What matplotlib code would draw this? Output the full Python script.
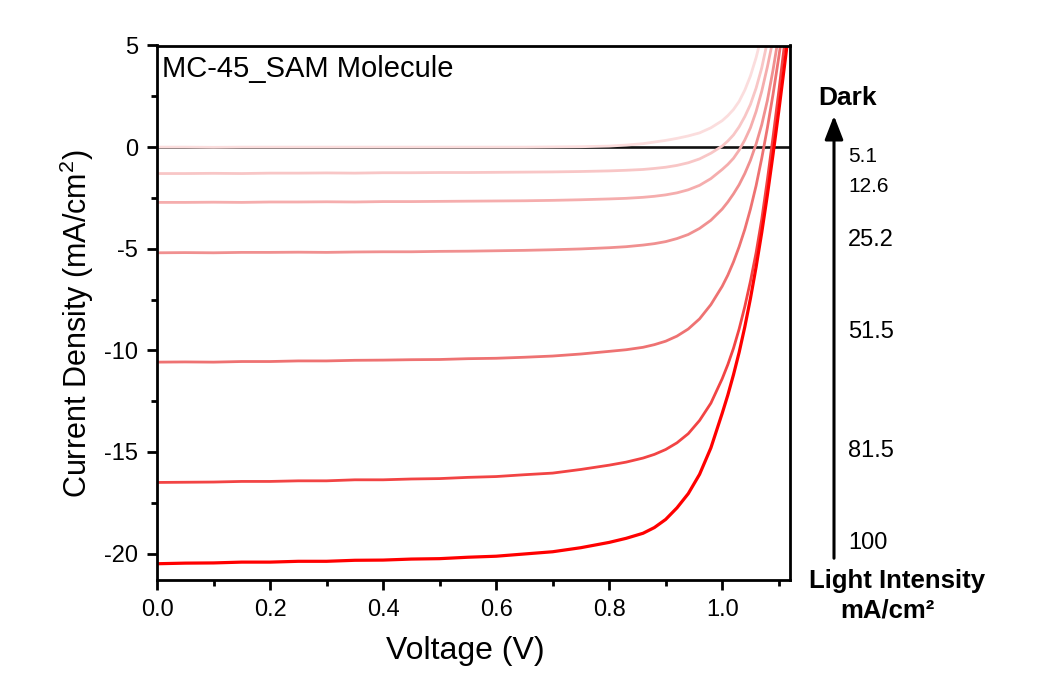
import matplotlib
matplotlib.use("Agg")
import matplotlib.pyplot as plt
from matplotlib.ticker import MultipleLocator, FixedLocator
from matplotlib.patches import FancyArrowPatch

plt.rcParams['font.family'] = ['Liberation Sans', 'DejaVu Sans']
plt.rcParams['mathtext.fontset'] = 'custom'
plt.rcParams['mathtext.rm'] = 'Liberation Sans'
plt.rcParams['mathtext.it'] = 'Liberation Sans:italic'

# ---- data ----
voltage = [0.00, 0.05, 0.10, 0.15, 0.20, 0.25, 0.30, 0.35, 0.40, 0.45, 0.50, 0.55,
           0.60, 0.65, 0.70, 0.75,
           0.80, 0.83, 0.86, 0.88, 0.90, 0.92, 0.94, 0.96, 0.98,
           1.00, 1.01, 1.02, 1.03, 1.04, 1.05, 1.06, 1.07, 1.08, 1.09, 1.10, 1.11, 1.12]

j_dark = [0.00, 0.00, -0.01, 0.00, 0.00, 0.00, 0.00, 0.00, 0.00, 0.00, 0.00, 0.00,
          0.00, 0.00, 0.01, 0.02,
          0.05, 0.10, 0.17, 0.25, 0.33, 0.43, 0.55, 0.70, 0.95,
          1.30, 1.55, 1.85, 2.25, 2.80, 3.50, 4.40, 5.50, 6.70, 8.00, 9.40, 10.9, 12.5]

j_5_1 = [-1.30, -1.30, -1.29, -1.30, -1.28, -1.28, -1.27, -1.28, -1.26, -1.26, -1.25, -1.25,
         -1.24, -1.23, -1.22, -1.20,
         -1.17, -1.14, -1.10, -1.05, -0.99, -0.90, -0.77, -0.58, -0.30,
         0.05, 0.30, 0.60, 1.00, 1.50, 2.10, 2.90, 3.90, 5.20, 6.60, 8.10, 9.70, 11.4]

j_12_6 = [-2.72, -2.72, -2.71, -2.72, -2.70, -2.70, -2.69, -2.70, -2.68, -2.68, -2.67, -2.66,
          -2.65, -2.64, -2.62, -2.59,
          -2.55, -2.52, -2.47, -2.42, -2.35, -2.25, -2.10, -1.88, -1.55,
          -1.10, -0.85, -0.55, -0.15, 0.35, 0.95, 1.75, 2.75, 3.95, 5.30, 6.80, 8.40, 10.1]

j_25_2 = [-5.20, -5.19, -5.20, -5.18, -5.18, -5.17, -5.18, -5.16, -5.15, -5.15, -5.13, -5.12,
          -5.10, -5.08, -5.05, -5.01,
          -4.95, -4.90, -4.82, -4.75, -4.65, -4.50, -4.30, -4.00, -3.60,
          -3.05, -2.70, -2.30, -1.85, -1.30, -0.65, 0.15, 1.10, 2.30, 3.80, 5.50, 7.30, 9.20]

j_51_5 = [-10.58, -10.57, -10.58, -10.55, -10.55, -10.52, -10.52, -10.49, -10.48, -10.46, -10.45, -10.41,
          -10.39, -10.34, -10.28, -10.18,
          -10.05, -9.97, -9.85, -9.72, -9.55, -9.30, -8.95, -8.45, -7.75,
          -6.85, -6.30, -5.65, -4.90, -4.05, -3.05, -1.90, -0.55, 0.95, 2.60, 4.40, 6.30, 8.30]

j_81_5 = [-16.50, -16.49, -16.48, -16.45, -16.45, -16.42, -16.42, -16.37, -16.37, -16.33, -16.31, -16.25,
          -16.21, -16.12, -16.04, -15.86,
          -15.65, -15.50, -15.30, -15.12, -14.88, -14.55, -14.10, -13.45, -12.60,
          -11.40, -10.70, -9.90, -8.95, -7.85, -6.60, -5.20, -3.55, -1.60, 0.50, 2.70, 5.00, 7.40]

j_100 = [-20.50, -20.47, -20.46, -20.42, -20.42, -20.38, -20.38, -20.33, -20.32, -20.27, -20.25, -20.18,
         -20.13, -20.02, -19.91, -19.71,
         -19.45, -19.25, -19.00, -18.72, -18.32, -17.75, -17.05, -16.10, -14.80,
         -13.10, -12.20, -11.20, -10.10, -8.85, -7.45, -5.90, -4.20, -2.35, -0.35, 1.75, 3.95, 6.20]

series = [j_dark, j_5_1, j_12_6, j_25_2, j_51_5, j_81_5, j_100]
colors = ['#fbdddd', '#f8c6c6', '#f5adad', '#f09090', '#ee7272', '#f24444', '#ff0000']
widths = [2.0, 2.0, 2.0, 2.0, 2.0, 2.0, 2.3]

intensity_labels = ['5.1', '12.6', '25.2', '51.5', '81.5', '100']
intensity_ypix = [157, 187, 240, 332, 451, 543]
intensity_sizes = [15, 15, 17, 17, 17, 17]

x_ticks = [0.0, 0.2, 0.4, 0.6, 0.8, 1.0]
y_ticks = [-20, -15, -10, -5, 0, 5]

W, H = 1038, 686
fig = plt.figure(figsize=(W / 100, H / 100), dpi=100)
ax = fig.add_axes([157 / W, 1 - 580 / H, (790 - 157) / W, (580 - 45.5) / H])

ax.axhline(0, color='#111111', lw=1.9, zorder=1)
for y, c, lw in zip(series, colors, widths):
    ax.plot(voltage, y, color=c, lw=lw, zorder=2, solid_capstyle='round')

ax.set_xlim(0, 1.12)
ax.set_ylim(-21.3, 5)
ax.xaxis.set_major_locator(FixedLocator(x_ticks))
ax.yaxis.set_major_locator(FixedLocator(y_ticks))
ax.xaxis.set_minor_locator(MultipleLocator(0.1))
ax.yaxis.set_minor_locator(MultipleLocator(2.5))
ax.set_xticklabels([f"{v:.1f}" for v in x_ticks])
ax.set_yticklabels([f"{v:d}" for v in y_ticks])

for s in ax.spines.values():
    s.set_linewidth(2.0)
    s.set_color('black')
ax.tick_params(which='major', direction='out', length=7.5, width=2.0, labelsize=17, pad=6)
ax.tick_params(which='minor', direction='out', length=4, width=2.0)
ax.tick_params(top=False, right=False, which='both')

ax.set_xlabel('Voltage (V)', fontsize=23)
ax.set_ylabel('Current Density (mA/cm$^2$)', fontsize=22)
ax.xaxis.set_label_coords(0.487, -0.104)
ax.yaxis.set_label_coords(-0.096, 0.48)

ax.text(0.008, 0.956, 'MC-45_SAM Molecule', transform=ax.transAxes,
        fontsize=21, ha='left', va='center')

# right-side annotation
def fx(px):
    return px / W

def fy(py):
    return 1 - py / H

arrow = FancyArrowPatch((fx(834), fy(561)), (fx(834), fy(113)), transform=fig.transFigure,
                        arrowstyle='-|>,head_length=9,head_width=3.5', lw=2.2, color='black',
                        mutation_scale=1.6)
fig.add_artist(arrow)
fig.text(fx(848), fy(98), 'Dark', fontsize=19, fontweight='bold', ha='center', va='center')
for lab, yp, fs in zip(intensity_labels, intensity_ypix, intensity_sizes):
    fig.text(fx(848), fy(yp), lab, fontsize=fs, ha='left', va='center')
fig.text(fx(897), fy(581), 'Light Intensity', fontsize=18.5, fontweight='bold', ha='center', va='center')
fig.text(fx(887), fy(611), 'mA/cm\u00b2', fontsize=18.5, fontweight='bold', ha='center', va='center')

fig.savefig('out.png', dpi=100)
